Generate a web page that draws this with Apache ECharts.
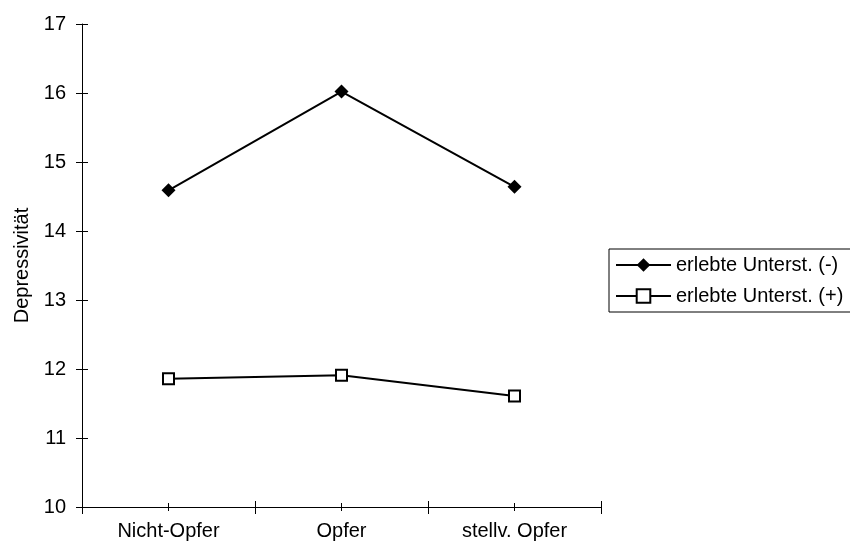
<!DOCTYPE html>
<html>
<head>
<meta charset="utf-8">
<script src="https://cdn.jsdelivr.net/npm/echarts@6/dist/echarts.min.js"></script>
<style>
  html, body { margin: 0; padding: 0; background: #fff; }
  #chart { width: 850px; height: 549px; }
</style>
</head>
<body>
<div id="chart"></div>
<script>
const categories = ['Nicht-Opfer', 'Opfer', 'stellv. Opfer'];
const seriesNames = ['erlebte Unterst. (-)', 'erlebte Unterst. (+)'];
const supportLow = [14.59, 16.02, 14.64];
const supportHigh = [11.86, 11.91, 11.61];
const yTicks = { min: 10, max: 17, step: 1 };
const yTitle = 'Depressivität';

const FONT = "'Liberation Sans', Arial, sans-serif";
const chart = echarts.init(document.getElementById('chart'), null, { renderer: 'canvas' });

// category x axes stacked on the same baseline to draw ticks crossing the line
function catAxis(opts) {
  return Object.assign({
    type: 'category',
    data: categories,
    position: 'bottom',
    boundaryGap: true,
    axisLine: { show: false },
    axisLabel: { show: false },
    splitLine: { show: false },
    axisTick: { show: true, lineStyle: { color: '#000', width: 1 } }
  }, opts);
}

function valAxis(opts) {
  return Object.assign({
    type: 'value',
    min: yTicks.min,
    max: yTicks.max,
    interval: yTicks.step,
    position: 'left',
    axisLine: { show: false },
    axisLabel: { show: false },
    splitLine: { show: false },
    axisTick: { show: true, length: 6, lineStyle: { color: '#000', width: 1 } }
  }, opts);
}

chart.setOption({
  animation: false,
  backgroundColor: '#fff',
  textStyle: { fontFamily: FONT },
  grid: { left: 82, top: 24, right: 249, bottom: 42, containLabel: false },
  legend: {
    orient: 'vertical',
    left: 609,
    top: 249,
    data: seriesNames,
    itemWidth: 55,
    itemHeight: 17,
    itemGap: 11,
    padding: [6, 24, 6, 6],
    borderColor: '#000',
    borderWidth: 1,
    lineStyle: { width: 2, color: '#000' },
    textStyle: { fontFamily: FONT, fontSize: 20, color: '#000' }
  },
  xAxis: [
    catAxis({
      axisLine: { show: true, lineStyle: { color: '#000', width: 1 } },
      axisTick: { show: true, inside: false, length: 7, lineStyle: { color: '#000' } },
      axisLabel: { show: true, fontFamily: FONT, fontSize: 20, color: '#000', margin: 14 }
    }),
    catAxis({ axisTick: { show: true, inside: true, length: 6, lineStyle: { color: '#000' } } }),
    catAxis({ axisTick: { show: true, inside: false, length: 4, alignWithLabel: true, lineStyle: { color: '#000' } } }),
    catAxis({ axisTick: { show: true, inside: true, length: 4, alignWithLabel: true, lineStyle: { color: '#000' } } })
  ],
  yAxis: [
    valAxis({
      axisLine: { show: true, lineStyle: { color: '#000', width: 1 } },
      axisTick: { show: true, inside: false, length: 6, lineStyle: { color: '#000' } },
      axisLabel: { show: true, fontFamily: FONT, fontSize: 20, color: '#000', margin: 16 },
      name: yTitle,
      nameLocation: 'middle',
      nameRotate: 90,
      nameGap: 48,
      nameTextStyle: { fontFamily: FONT, fontSize: 20, color: '#000' }
    }),
    valAxis({ axisTick: { show: true, inside: true, length: 6, lineStyle: { color: '#000' } } })
  ],
  series: [
    {
      name: seriesNames[0],
      type: 'line',
      data: supportLow,
      xAxisIndex: 0,
      yAxisIndex: 0,
      symbol: 'diamond',
      symbolSize: 14,
      lineStyle: { color: '#000', width: 2 },
      itemStyle: { color: '#000', borderColor: '#000', borderWidth: 0 }
    },
    {
      name: seriesNames[1],
      type: 'line',
      data: supportHigh,
      xAxisIndex: 0,
      yAxisIndex: 0,
      symbol: 'rect',
      symbolSize: 11,
      showAllSymbol: true,
      lineStyle: { color: '#000', width: 2 },
      itemStyle: { color: '#fff', borderColor: '#000', borderWidth: 2 }
    }
  ]
});
</script>
</body>
</html>
